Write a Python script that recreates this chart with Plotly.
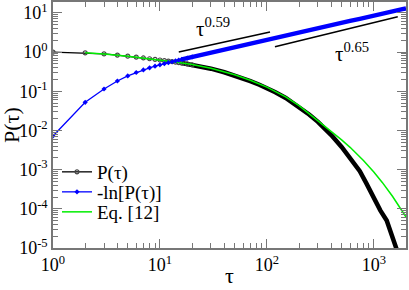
import plotly.graph_objects as go

# ---- data ----
tau = [1, 2, 3, 4, 5, 6, 7, 8, 9, 10, 11, 12, 13, 14, 15, 16, 18, 20, 25, 30,
       40, 50, 60, 70, 85, 100, 120, 150, 200, 250, 300, 400, 500, 600, 740,
       850, 1000, 1150, 1320, 1470, 1570, 1700, 1850, 2000]
p_tau = [0.9928, 0.9493, 0.8923, 0.8336, 0.7827, 0.7408, 0.7047, 0.6737, 0.6473,
         0.6250, 0.6035, 0.5857, 0.5684, 0.5516, 0.5369, 0.5220, 0.4966, 0.4724,
         0.4190, 0.3753, 0.3042, 0.2516, 0.2122, 0.1809, 0.1466, 0.1200, 0.0944,
         0.0672, 0.0400, 0.0252, 0.01657, 0.00759, 0.00377, 0.00199, 0.000912,
         0.000453, 0.000184, 0.0000914, 0.0000502, 0.0000204, 0.0000107,
         0.0000068, 0.0000041, 0.0000025]
neg_ln_p = [0.0072, 0.052, 0.114, 0.182, 0.245, 0.30, 0.35, 0.395, 0.435, 0.47,
            0.505, 0.535, 0.565, 0.595, 0.622, 0.65, 0.70, 0.75, 0.87, 0.98,
            1.19, 1.38, 1.55, 1.71, 1.92, 2.12, 2.36, 2.70, 3.22, 3.68, 4.10,
            4.88, 5.58, 6.22, 7.0, 7.7, 8.6, 9.3, 9.9, 10.8, 11.45, 11.9, 12.4, 12.9]

eq12_tau = [2, 3, 5, 7, 10, 15, 20, 30, 50, 70, 100, 150, 200, 250, 300, 400,
            500, 600, 700, 800, 1000, 1200, 1500, 1800, 2000]
eq12_p = [0.955, 0.895, 0.785, 0.705, 0.625, 0.54, 0.478, 0.383, 0.262, 0.19,
          0.127, 0.072, 0.043, 0.0265, 0.0178, 0.00947, 0.00574, 0.00370,
          0.00248, 0.00171, 0.000867, 0.000471, 0.000206, 0.0000981, 0.0000619]

guide1_tau = [15, 107]
guide1_val = [1.0, 3.24]
guide2_tau = [119, 1675]
guide2_val = [1.36, 7.95]

x_tickvals = [1, 10, 100, 1000]
x_ticktext = ["10<sup>0</sup>", "10<sup>1</sup>", "10<sup>2</sup>", "10<sup>3</sup>"]
y_tickvals = [1e-5, 1e-4, 1e-3, 1e-2, 1e-1, 1, 10]
y_ticktext = ["10<sup>-5</sup>", "10<sup>-4</sup>", "10<sup>-3</sup>", "10<sup>-2</sup>",
              "10<sup>-1</sup>", "10<sup>0</sup>", "10<sup>1</sup>"]

SPLIT = 18  # number of leading points drawn with visible markers
FONT = "Times New Roman, Liberation Serif, serif"

fig = go.Figure()

# black P(tau): thick dense part + marker part
fig.add_trace(go.Scatter(x=tau[SPLIT - 3:], y=p_tau[SPLIT - 3:], mode="lines",
                         line=dict(color="black", width=4.5), showlegend=False,
                         hoverinfo="skip"))
fig.add_trace(go.Scatter(x=tau[:SPLIT], y=p_tau[:SPLIT], mode="lines+markers",
                         name="P(τ)", legend="legend",
                         line=dict(color="black", width=1.3),
                         marker=dict(symbol="circle-open", size=4,
                                     color="#444444", line=dict(width=1.2))))
# green Eq. [12]
fig.add_trace(go.Scatter(x=eq12_tau, y=eq12_p, mode="lines", name="Eq. [12]",
                         legend="legend3", line=dict(color="#00ee00", width=1.5)))
# blue -ln P
fig.add_trace(go.Scatter(x=tau[SPLIT - 3:], y=neg_ln_p[SPLIT - 3:], mode="lines",
                         line=dict(color="#0000ff", width=4.5), showlegend=False,
                         hoverinfo="skip"))
fig.add_trace(go.Scatter(x=tau[:SPLIT], y=neg_ln_p[:SPLIT], mode="lines+markers",
                         name="-ln[P(τ)]", legend="legend2",
                         line=dict(color="#0000ff", width=1.3),
                         marker=dict(symbol="diamond", size=4, color="#0000ff")))
# guide lines
fig.add_trace(go.Scatter(x=guide1_tau, y=guide1_val, mode="lines",
                         line=dict(color="black", width=1.5), showlegend=False))
fig.add_trace(go.Scatter(x=guide2_tau, y=guide2_val, mode="lines",
                         line=dict(color="black", width=1.5), showlegend=False))

W, H = 409, 290
L, R, T, B = 53, 3, 2, 42
pw, ph = W - L - R, H - T - B


def px(x):
    return (x - L) / pw


def py(y):
    return (H - B - y) / ph


axis_common = dict(showgrid=False, zeroline=False, showline=True, linecolor="#777777",
                   linewidth=1.5, mirror="ticks", ticks="inside", ticklen=9,
                   tickwidth=1, tickcolor="#777777", automargin=False,
                   tickfont=dict(family=FONT, size=18, color="black"))

fig.update_xaxes(type="log", range=[0, 3.301], tickvals=x_tickvals, ticktext=x_ticktext,
                 minor=dict(ticks="inside", ticklen=5, tickcolor="#777777",
                            dtick="D1", showgrid=False),
                 **axis_common)
fig.update_yaxes(type="log", range=[-5, 1.276], tickvals=y_tickvals, ticktext=y_ticktext,
                 minor=dict(ticks="inside", ticklen=5, tickcolor="#777777",
                            dtick="D1", showgrid=False),
                 **axis_common)

annotations = [
    dict(text="τ", x=0.5, y=py(275), xref="paper", yref="paper", showarrow=False,
         font=dict(family=FONT, size=22, color="black"), xanchor="center", yanchor="middle"),
    dict(text="P(τ)", x=px(11), y=py(125), xref="paper", yref="paper",
         showarrow=False, textangle=-90, font=dict(family=FONT, size=22, color="black"),
         xanchor="center", yanchor="middle"),
    dict(text="τ<sup>0.59</sup>", x=px(194), y=py(27), xref="paper", yref="paper",
         showarrow=False, font=dict(family=FONT, size=21, color="black"),
         xanchor="left", yanchor="middle"),
    dict(text="τ<sup>0.65</sup>", x=px(333), y=py(53), xref="paper", yref="paper",
         showarrow=False, font=dict(family=FONT, size=21, color="black"),
         xanchor="left", yanchor="middle"),
]


def legend_at(ypix):
    return dict(x=px(57), y=py(ypix), xanchor="left", yanchor="middle",
                bgcolor="rgba(0,0,0,0)", font=dict(family=FONT, size=19, color="black"),
                itemwidth=30)


fig.update_layout(
    width=W, height=H,
    margin=dict(l=L, r=R, t=T, b=B, autoexpand=False),
    paper_bgcolor="white", plot_bgcolor="white",
    font=dict(family=FONT, color="black"),
    showlegend=True,
    legend=legend_at(172),
    legend2=legend_at(192),
    legend3=legend_at(212),
    annotations=annotations,
)

fig.write_html("out.html", config={"displayModeBar": False},
               post_script="document.body.style.margin='0';document.body.style.padding='0';")
